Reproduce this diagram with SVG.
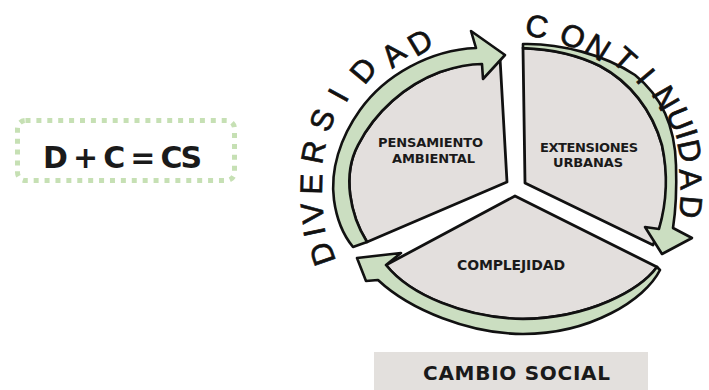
<svg xmlns="http://www.w3.org/2000/svg" width="709" height="390" viewBox="0 0 709 390">
<style>
.seg{fill:#e3dfdd;stroke:#111;stroke-width:2.8;stroke-linejoin:round}
.band{fill:#cbdec1;stroke:#111;stroke-width:2.6;stroke-linejoin:round}
.lbl{font-family:"DejaVu Sans",sans-serif;font-weight:bold;fill:#1a1a1a;text-anchor:middle}
.hand{font-family:"Liberation Sans",Arial,sans-serif;font-size:31px;fill:#111;stroke:#111;stroke-width:0.7;text-anchor:middle}
</style>
<rect width="709" height="390" fill="#fff"/>

<g id="formula">
<rect x="17.5" y="120.5" width="217" height="60" rx="8" fill="none" stroke="#c6e0b4" stroke-width="5" stroke-dasharray="5 5.9"/>
<text class="lbl" x="122.5" y="168" font-size="30" textLength="159" lengthAdjust="spacing">D + C = CS</text>
</g>

<g id="pensamiento-ambiental">
<path class="seg" d="M500,58 L507,182 L367,242 C350,215 342,175 358,145 C375,112 405,85 440,72 C462,64 485,60 500,58 Z"/>
<text class="lbl" x="430.5" y="146.5" font-size="13" textLength="105" lengthAdjust="spacing">PENSAMIENTO</text>
<text class="lbl" x="433.5" y="163" font-size="13" textLength="83" lengthAdjust="spacing">AMBIENTAL</text>
</g>

<g id="extensiones-urbanas">
<path class="seg" d="M523,48 L525,183 L653,245 C667,215 670,180 662,145 C652,110 630,82 600,66 C578,55 550,49 523,48 Z"/>
<text class="lbl" x="589" y="151.5" font-size="13" textLength="98" lengthAdjust="spacing">EXTENSIONES</text>
<text class="lbl" x="588" y="166.5" font-size="13" textLength="70" lengthAdjust="spacing">URBANAS</text>
</g>

<g id="complejidad">
<path class="seg" d="M515,196 L657,267 C640,290 590,318 523,319 C465,318 410,295 386,265 Z"/>
<text class="lbl" x="511" y="269.5" font-size="14" textLength="108" lengthAdjust="spacing">COMPLEJIDAD</text>
</g>

<g id="connectors">
<path class="band" d="M367,242 C350,215 342,175 358,145 C375,112 405,85 440,72 C455,67 470,64 482,64 L483,79 L505,55 L471,31 L476,48 C430,50 385,75 360,110 C340,138 330,170 334,200 C337,222 344,236 353,247 Z"/>
<path class="band" d="M523,44 C560,43 605,55 635,75 C660,95 675,125 676,165 C677,195 675,215 673,228 L692,238 L662,254 L645,227 L659,229 C666,205 669,178 662,145 C652,110 630,82 600,66 C578,55 550,49 523,48 Z"/>
<path class="band" d="M657,267 C640,290 590,318 523,319 C465,318 410,295 386,265 L401,253 L357,258 L366,281 L378,280 C410,310 470,334 523,334 C590,334 645,300 660,270 Z"/>
</g>

<g id="diversidad">
<text class="hand" transform="translate(322,254) rotate(-109)" y="11">D</text>
<text class="hand" transform="translate(314,232) rotate(-102)" y="11">I</text>
<text class="hand" transform="translate(312,213) rotate(-97)" y="11">V</text>
<text class="hand" transform="translate(311,184) rotate(-88.5)" y="11">E</text>
<text class="hand" transform="translate(313,152) rotate(-79)" y="11">R</text>
<text class="hand" transform="translate(322,120) rotate(-69)" y="11">S</text>
<text class="hand" transform="translate(338,95) rotate(-61)" y="11">I</text>
<text class="hand" transform="translate(363,70) rotate(-50)" y="11">D</text>
<text class="hand" transform="translate(393,54) rotate(-40)" y="11">A</text>
<text class="hand" transform="translate(420,42) rotate(-31)" y="11">D</text>
</g>

<g id="continuidad">
<text class="hand" transform="translate(537,26) rotate(10)" y="11">C</text>
<text class="hand" transform="translate(573,36) rotate(23)" y="11">O</text>
<text class="hand" transform="translate(598,47) rotate(32)" y="11">N</text>
<text class="hand" transform="translate(625,59) rotate(42)" y="11">T</text>
<text class="hand" transform="translate(646,76) rotate(50)" y="11">I</text>
<text class="hand" transform="translate(666,98) rotate(60)" y="11">N</text>
<text class="hand" transform="translate(680,119) rotate(68)" y="11">U</text>
<text class="hand" transform="translate(687,134) rotate(73)" y="11">I</text>
<text class="hand" transform="translate(690,151) rotate(78)" y="11">D</text>
<text class="hand" transform="translate(691,179) rotate(86)" y="11">A</text>
<text class="hand" transform="translate(691,207) rotate(95)" y="11">D</text>
</g>

<g id="cambio-social">
<rect x="374" y="352" width="274" height="38" fill="#e3e0dd"/>
<text class="lbl" x="516.5" y="380" font-size="20" textLength="187" lengthAdjust="spacing">CAMBIO SOCIAL</text>
</g>
</svg>
